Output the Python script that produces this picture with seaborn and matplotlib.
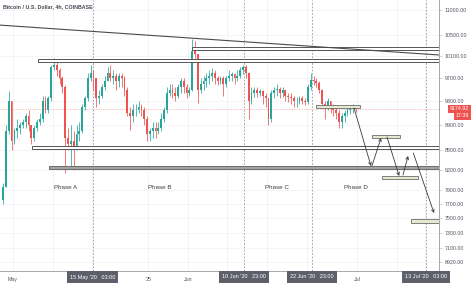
import numpy as np
import pandas as pd
import matplotlib
matplotlib.use("Agg")
import matplotlib.pyplot as plt
import matplotlib.transforms as mtransforms
from matplotlib.patches import Rectangle
from matplotlib.ticker import NullLocator
import seaborn as sns

sns.set_theme(style="white")
plt.rcParams['font.family'] = ['Liberation Sans', 'DejaVu Sans']

# ---------------- data ----------------
title = "Bitcoin / U.S. Dollar, 4h, COINBASE"
first_open = 7760
closes = [7950, 8800, 9300, 8650, 8800, 8850, 8900, 8950, 9050, 8900,
          8700, 8850, 8950, 9000, 9300, 9150, 9350, 9900, 9950, 9850,
          9700, 9550, 8700, 8600, 8650, 8550, 8750, 8800, 9200, 9350,
          9700, 9800, 9700, 9350, 9400, 9550, 9650, 9800, 9700, 9750,
          9650, 9750, 9700, 9500, 9100, 9050, 9150, 9150, 9200, 9150,
          9000, 8750, 8800, 8850, 8800, 8850, 9000, 9150, 9450, 9500,
          9450, 9400, 9550, 9650, 9550, 9450, 9500, 10200, 10150, 9500,
          9600, 9650, 9700, 9750, 9800, 9700, 9650, 9700, 9600, 9700,
          9750, 9780, 9700, 9750, 9850, 9900, 9800, 9300, 9450, 9500,
          9450, 9480, 9400, 9350, 9000, 9450, 9500, 9520, 9450, 9500,
          9400, 9380, 9350, 9300, 9300, 9350, 9300, 9280, 9550, 9680,
          9650, 9620, 9500, 9250, 9200, 9300, 9200, 9150, 9100, 8950,
          9050, 9100, 9150, 9180, 9200, 9175]
highs = [8000, 8900, 9470, 9300, 8850, 9000, 8950, 9000, 9100, 9150,
         8900, 8900, 9000, 9100, 9400, 9400, 9400, 9950, 10070, 10000,
         9880, 9750, 9580, 8850, 8900, 8800, 8900, 8950, 9250, 9400,
         9800, 9950, 9850, 9700, 9500, 9600, 9750, 9900, 9950, 9850,
         9800, 9800, 9800, 9750, 9550, 9200, 9250, 9250, 9300, 9250,
         9200, 9050, 8850, 8950, 8950, 8950, 9100, 9200, 9550, 9600,
         9600, 9550, 9600, 9700, 9700, 9600, 9550, 10430, 10400, 10150,
         9700, 9750, 9800, 9850, 9880, 9850, 9750, 9750, 9750, 9750,
         9850, 9820, 9800, 9850, 9900, 9950, 9950, 9800, 9550, 9550,
         9550, 9520, 9500, 9450, 9350, 9500, 9550, 9600, 9550, 9550,
         9500, 9450, 9450, 9400, 9380, 9400, 9400, 9350, 9600, 9800,
         9750, 9700, 9650, 9520, 9300, 9350, 9300, 9250, 9200, 9150,
         9100, 9150, 9200, 9230, 9250, 9220]
lows = [7700, 7940, 8750, 8500, 8600, 8700, 8750, 8850, 8850, 8800,
        8600, 8650, 8800, 8900, 8950, 9100, 9100, 9300, 9850, 9750,
        9600, 9450, 8150, 8500, 8230, 8200, 8500, 8650, 8780, 9150,
        9300, 9650, 9500, 9200, 9250, 9350, 9500, 9650, 9650, 9600,
        9500, 9550, 9550, 9400, 9050, 8820, 8950, 9050, 9100, 9050,
        8900, 8650, 8650, 8700, 8700, 8750, 8800, 8950, 9100, 9400,
        9350, 9300, 9350, 9450, 9450, 9350, 9400, 9480, 10000, 9270,
        9450, 9500, 9550, 9600, 9650, 9600, 9580, 9600, 9400, 9550,
        9650, 9650, 9600, 9650, 9700, 9780, 9700, 9000, 9250, 9380,
        9380, 9400, 9250, 9200, 8900, 8950, 9350, 9400, 9350, 9380,
        9300, 9280, 9250, 9200, 9200, 9250, 9250, 9230, 9250, 9500,
        9580, 9550, 9450, 9200, 9000, 9150, 9100, 9050, 9000, 8850,
        8850, 8950, 9050, 9080, 9100, 9120]
candle_start = "2020-04-29"
last_price = 9174.92
countdown = "17:39"

price_ticks = [11000, 10500, 10100, 9700, 9300, 8900, 8500, 8200,
               7900, 7700, 7500, 7300, 7100, 6920]
time_tick_dates = ["2020-05-01", "2020-05-08", "2020-05-15", "2020-05-25",
                   "2020-06-01", "2020-06-08", "2020-06-15", "2020-06-22",
                   "2020-07-01", "2020-07-08", "2020-07-13"]
time_tick_labels = ["May", "", "", "25", "Jun", "", "", "", "Jul", "", ""]
marker_dates = ["2020-05-15 03:00", "2020-06-10 23:00",
                "2020-06-22 23:00", "2020-07-13 03:00"]
marker_labels = ["15 May '20   03:00", "10 Jun '20   23:00",
                 "22 Jun '20   23:00", "13 Jul '20   03:00"]

# drawings: (start, end, low price, high price)
zones_wide = [("2020-06-01 17:00", "2020-07-16", 10220, 10275),
              ("2020-05-05 10:00", "2020-07-16", 10007, 10055),
              ("2020-05-04 09:00", "2020-07-16", 8519, 8566)]
zone_grey = ("2020-05-07 09:00", "2020-07-16", 8211, 8257)
zones_small = [("2020-06-23 17:00", "2020-07-01 12:00", 9186, 9237),
               ("2020-07-03 14:00", "2020-07-08 14:00", 8695, 8743),
               ("2020-07-05 10:00", "2020-07-11 17:00", 8062, 8106),
               ("2020-07-10 12:00", "2020-07-15 12:00", 7434, 7489)]
arrow_from = [("2020-06-30 10:00", 9186), ("2020-07-03 14:00", 8257),
              ("2020-07-06 06:00", 8710), ("2020-07-09 02:00", 8121),
              ("2020-07-10 22:00", 8457)]
arrow_to = [("2020-07-03 10:00", 8257), ("2020-07-05 05:00", 8695),
            ("2020-07-08 10:00", 8106), ("2020-07-10 00:00", 8411),
            ("2020-07-14 14:00", 7572)]
trend_dates = ["2020-04-28 17:00", "2020-07-16 19:00"]
trend_prices = [10700, 10118]
phase_labels = ["Phase A", "Phase B", "Phase C", "Phase D"]
phase_dates = ["2020-05-10 09:00", "2020-05-26 22:00",
               "2020-06-16 19:00", "2020-06-30 19:00"]
phase_price = 7931

# ---------------- helpers ----------------
REF = pd.Timestamp("2020-05-01")


def days(d):
    return (pd.Timestamp(d) - REF) / pd.Timedelta(days=1)


UP, DOWN = "#26a69a", "#ef5350"
TXT = "#50535e"

fig = plt.figure(figsize=(4.74, 2.84), dpi=100)
ax = fig.add_axes([0, 13 / 284, 439 / 474, 271 / 284])
ax.set_facecolor("white")
ax.set_yscale("log")
ax.set_xlim(days("2020-04-28 16:44"), days("2020-07-15 11:16"))
ax.set_ylim(6806, 11206)

# candles
t = pd.date_range(candle_start, periods=len(closes), freq="12h")
cx = np.array([days(v) for v in t]) + 0.25
c = np.array(closes, float)
o = np.concatenate([[first_open], c[:-1]])
h = np.array(highs, float)
l = np.array(lows, float)
col = np.where(c >= o, UP, DOWN)
ax.vlines(cx, l, h, colors=col, lw=0.55, zorder=2)
bottom = np.minimum(o, c)
height = np.maximum(np.abs(c - o), 8)
ax.bar(cx, height, bottom=bottom, width=0.32, color=col, lw=0, zorder=2)

# grid
ax.set_yticks(price_ticks)
ax.set_yticklabels([f"{p:.2f}" for p in price_ticks])
ax.yaxis.set_minor_locator(NullLocator())
ax.set_xticks([days(d) for d in time_tick_dates])
ax.set_xticklabels(time_tick_labels)
ax.grid(True, color="#f0f3fa", lw=0.6, zorder=0)
ax.yaxis.tick_right()
ax.tick_params(axis="both", labelsize=3.8, colors="#b2b5be", labelcolor=TXT,
               length=2, width=0.4, pad=2)
for s in ["top", "left"]:
    ax.spines[s].set_visible(False)
for s in ["right", "bottom"]:
    ax.spines[s].set_color("#9598a1")
    ax.spines[s].set_linewidth(0.6)

# last price line
ax.axhline(last_price, color=DOWN, lw=0.5, ls=(0, (1, 1.5)), alpha=0.7, zorder=1)

# vertical markers
for d in marker_dates:
    ax.axvline(days(d), color="#9598a1", lw=0.6, ls=(0, (2, 2)), zorder=1)

# trend line
sns.lineplot(x=[days(d) for d in trend_dates], y=trend_prices, ax=ax,
             color="#4a4a4a", lw=0.8, zorder=4)

# zones
for s, e, lo, hi in zones_wide:
    ax.add_patch(Rectangle((days(s), lo), days(e) - days(s), hi - lo,
                           facecolor="white", edgecolor="#555555", lw=0.7, zorder=3))
s, e, lo, hi = zone_grey
ax.add_patch(Rectangle((days(s), lo), days(e) - days(s), hi - lo,
                       facecolor="#a3a3a3", edgecolor="#6b6b6b", lw=0.7, zorder=3))
for s, e, lo, hi in zones_small:
    ax.add_patch(Rectangle((days(s), lo), days(e) - days(s), hi - lo,
                           facecolor="#e6e8cf", edgecolor="#6b6b6b", lw=0.6, zorder=5))

# arrows
for (d0, p0), (d1, p1) in zip(arrow_from, arrow_to):
    ax.annotate("", xy=(days(d1), p1), xytext=(days(d0), p0),
                arrowprops=dict(arrowstyle="->", color="#3a3a3a", lw=0.6,
                                mutation_scale=5, shrinkA=0, shrinkB=0),
                zorder=6)

# phase labels
for lab, d in zip(phase_labels, phase_dates):
    ax.text(days(d), phase_price, lab, fontsize=4.5, color="#3d3d3d",
            ha="center", va="center", zorder=6)

# title
ax.text(3 / 439, 1 - 7 / 271, title, transform=ax.transAxes, fontsize=3.8,
        color="#434651", ha="left", va="center", fontweight="bold", zorder=7)

# highlighted time labels
tr = mtransforms.blended_transform_factory(ax.transData, ax.transAxes)
for d, lab in zip(marker_dates, marker_labels):
    ax.text(days(d), -6 / 271, lab, transform=tr, fontsize=4.0, color="white",
            ha="center", va="center", clip_on=False, zorder=8,
            bbox=dict(boxstyle="square,pad=0.55", fc="#5d606b", ec="none"))

# last price labels
tr2 = mtransforms.blended_transform_factory(ax.transAxes, ax.transData)
ax.text(469 / 439, last_price, f"{last_price:.2f}", transform=tr2, fontsize=3.8,
        color="white", ha="right", va="center", clip_on=False, zorder=8,
        bbox=dict(boxstyle="square,pad=0.3", fc=DOWN, ec="none"))
ax.text(469 / 439, 9053, countdown, transform=tr2, fontsize=3.8,
        color="white", ha="right", va="center", clip_on=False, zorder=8,
        bbox=dict(boxstyle="square,pad=0.3", fc=DOWN, ec="none"))

fig.savefig("out.png", dpi=100, facecolor="white")
